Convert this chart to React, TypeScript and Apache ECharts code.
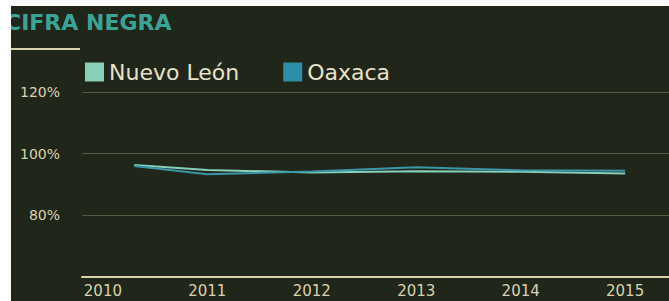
import React, { useEffect, useRef } from "react";
import * as echarts from "echarts";

const years = [2010, 2011, 2012, 2013, 2014, 2015];
const pointYears = [2010.3, 2011, 2012, 2013, 2014, 2015];
const nuevoLeon = [96.3, 94.7, 93.9, 94.3, 94.1, 93.6];
const oaxaca = [96.0, 93.3, 94.2, 95.6, 94.6, 94.5];
const yTicks = [80, 100, 120];

const BG = "#21261b";
const BEIGE = "#d9d2ac";

export default function App() {
  const ref = useRef<HTMLDivElement>(null);
  useEffect(() => {
    document.body.style.margin = "0";
    document.body.style.background = "#ffffff";
    const chart = echarts.init(ref.current!, null, { renderer: "svg" });
    const font = "DejaVu Sans";
    chart.setOption({
      animation: false,
      backgroundColor: "#ffffff",
      graphic: [
        { type: "rect", z: -10, shape: { x: 11, y: 6, width: 658, height: 295 }, style: { fill: BG } },
        {
          type: "text", z: 10, x: 5, y: 22,
          style: { text: "CIFRA NEGRA", fill: "#3aa596", font: `bold 22px ${font}`, verticalAlign: "middle" },
        },
        { type: "rect", z: 20, shape: { x: 0, y: 0, width: 11, height: 301 }, style: { fill: "#ffffff" } },
        { type: "rect", z: 20, shape: { x: 0, y: 0, width: 669, height: 6 }, style: { fill: "#ffffff" } },
        { type: "line", z: 10, shape: { x1: 11, y1: 49, x2: 80, y2: 49 }, style: { stroke: BEIGE, lineWidth: 2 } },
      ],
      legend: {
        left: 80,
        top: 56,
        icon: "rect",
        itemWidth: 19,
        itemHeight: 19,
        itemGap: 44,
        textStyle: { color: "#e6e1c8", fontSize: 22, fontFamily: font },
        data: ["Nuevo León", "Oaxaca"],
      },
      grid: { left: 82, right: 0, top: 92, bottom: 24, containLabel: false },
      xAxis: {
        type: "value",
        min: 2009.8,
        max: 2015.42,
        axisLine: { show: true, lineStyle: { color: BEIGE, width: 2 } },
        axisTick: { show: false },
        splitLine: { show: false },
        axisLabel: {
          customValues: years,
          formatter: (v: number) => String(v),
          color: BEIGE,
          fontSize: 15,
          fontFamily: font,
          margin: 6,
        },
      },
      yAxis: {
        type: "value",
        min: 60,
        max: 120,
        interval: 20,
        axisLine: { show: false },
        axisTick: { show: false },
        splitLine: { show: true, lineStyle: { color: "#55573f", width: 1 } },
        axisLabel: {
          customValues: yTicks,
          formatter: (v: number) => `${v}%`,
          color: BEIGE,
          fontSize: 14,
          fontFamily: font,
          margin: 22,
        },
      },
      series: [
        {
          name: "Nuevo León",
          type: "line",
          symbol: "none",
          color: "#86cfb9",
          lineStyle: { width: 2, color: "#86cfb9" },
          data: pointYears.map((x, i) => [x, nuevoLeon[i]]),
        },
        {
          name: "Oaxaca",
          type: "line",
          symbol: "none",
          color: "#2f8fa6",
          lineStyle: { width: 2, color: "#3a96a8" },
          data: pointYears.map((x, i) => [x, oaxaca[i]]),
        },
      ],
    });
    return () => chart.dispose();
  }, []);
  return <div ref={ref} style={{ width: 669, height: 301 }} />;
}
